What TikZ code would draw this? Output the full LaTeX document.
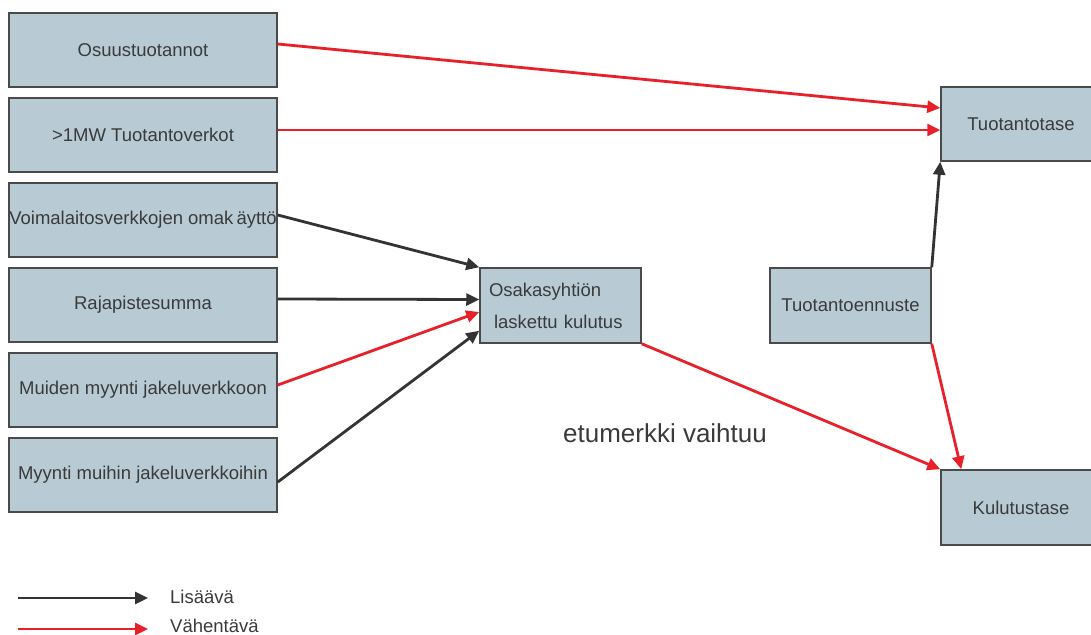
\documentclass[tikz,border=0pt]{standalone}
\usepackage{fontspec}
\setmainfont{Liberation Sans}
\usetikzlibrary{arrows.meta}
\definecolor{boxfill}{HTML}{B8CBD5}
\definecolor{boxline}{HTML}{4A4A4A}
\definecolor{txt}{HTML}{3A3A3A}
\definecolor{plusline}{HTML}{333333}
\definecolor{minusline}{HTML}{E8202A}
\tikzset{
  box/.style={draw=boxline, fill=boxfill, line width=1.5pt, inner sep=0pt,
    minimum width=268pt, minimum height=74pt, text=txt,
    font=\fontsize{18.5}{22}\selectfont},
  smallbox/.style={box, minimum width=161pt, minimum height=75pt},
  widebox/.style={box, minimum width=160pt, minimum height=74pt},
  plus/.style={draw=plusline, line width=2.8pt, -{Triangle[length=13pt,width=12pt]}},
  minus/.style={draw=minusline, line width=2.8pt, -{Triangle[length=13pt,width=12pt]}},
  legendtext/.style={anchor=base west, inner sep=0pt, text=txt, font=\fontsize{18.5}{22}\selectfont}
}
\begin{document}
\begin{tikzpicture}[x=1pt, y=-1pt]
\useasboundingbox (0,0) rectangle (1091,634);

% source boxes on the left
\node[box] (b1) at (143,50)  {Osuustuotannot};
\node[box] (b2) at (143,135) {>1MW Tuotantoverkot};
\node[box] (b3) at (143,220) {Voimalaitosverkkojen omak\,äyttö};
\node[box] (b4) at (143,305) {Rajapistesumma};
\node[box] (b5) at (143,390) {Muiden myynti jakeluverkkoon};
\node[box] (b6) at (143,475) {Myynti muihin jakeluverkkoihin};

% intermediate and result boxes
\node[smallbox, text width=143pt, inner xsep=9pt, align=left,
      font=\fontsize{18.5}{32}\selectfont] (osa) at (560.5,305.5)
      {Osakasyhtiön\\\hspace*{5pt}laskettu kulutus};
\node[smallbox] (enn) at (850.5,305.5) {Tuotantoennuste};
\node[widebox] (tuo) at (1021,124) {Tuotantotase};
\node[widebox, minimum height=75pt] (kul) at (1021,507.5) {Kulutustase};

% flows
\draw[minus] ([yshift=6pt]b1.east) -- ([yshift=16pt]tuo.west);
\draw[minus] ([yshift=5pt]b2.east) -- ([yshift=-6pt]tuo.west);
\draw[plus]  ([yshift=5pt]b3.east) -- (osa.north west);
\draw[plus]  ([yshift=6pt]b4.east) -- ([yshift=6pt]osa.west);
\draw[minus] ([yshift=5pt]b5.east) -- ([yshift=-6.5pt]osa.west);
\draw[plus]  ([yshift=-7pt]b6.east) -- ([yshift=13pt]osa.south west);
\draw[minus] (osa.south east) -- (kul.north west);
\draw[plus]  (enn.north east) -- (tuo.south west);
\draw[minus] (enn.south east) -- ([xshift=21pt]kul.north west);

\node[text=txt, inner sep=0pt, font=\fontsize{26}{30}\selectfont] (sign) at (665,433) {etumerkki vaihtuu};

% legend
\coordinate (la) at (18,598);
\coordinate (lb) at (148,598);
\coordinate (ma) at (18,629);
\coordinate (mb) at (148,629);
\draw[plus] (la) -- (lb);
\draw[minus] (ma) -- (mb);
\node[legendtext] (lt1) at (170,603) {Lisäävä};
\node[legendtext] (lt2) at (170,632) {Vähentävä};
\end{tikzpicture}
\end{document}
